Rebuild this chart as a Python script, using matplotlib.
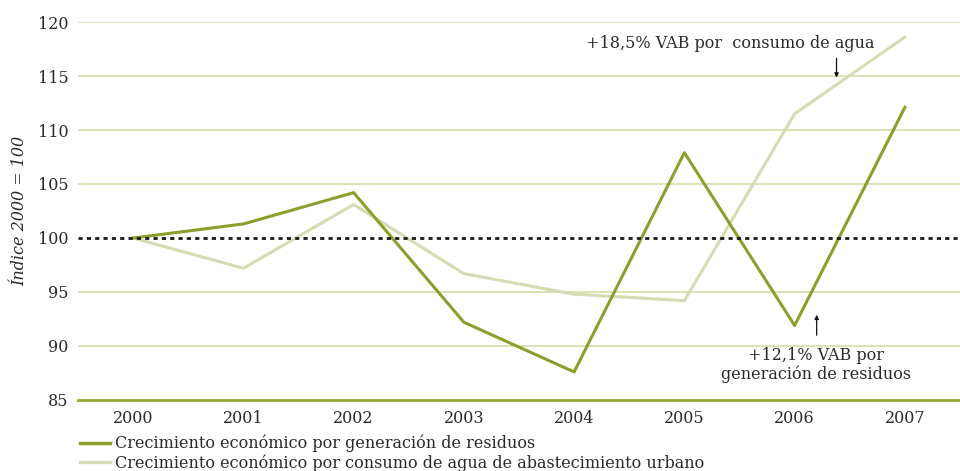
import matplotlib
matplotlib.use("Agg")
import matplotlib.pyplot as plt

years = ["2000", "2001", "2002", "2003", "2004", "2005", "2006", "2007"]
residuos = [100.0, 101.3, 104.2, 92.2, 87.6, 107.9, 91.9, 112.1]
agua = [100.0, 97.2, 103.1, 96.7, 94.8, 94.2, 111.5, 118.6]
yticks = [85, 90, 95, 100, 105, 110, 115, 120]
label_res = "Crecimiento económico por generación de residuos"
label_agua = "Crecimiento económico por consumo de agua de abastecimiento urbano"
note_agua = "+18,5% VAB por  consumo de agua"
note_res = "+12,1% VAB por\ngeneración de residuos"

plt.rcParams['font.family'] = ['DejaVu Serif']

dark = "#8d9e2c"
light = "#d6dcb2"
grid = "#d9dca6"
textc = "#2a2a2a"
fs = 11.5

fig = plt.figure(figsize=(9.6, 4.71), dpi=100)
ax = fig.add_axes([78/960, 1-400/471, 1-78/960, (400-22)/471])
x = list(range(len(years)))

for yv in yticks[1:]:
    if yv != 100:
        ax.axhline(yv, color=grid, lw=1.2, zorder=1)
ax.axhline(85, color="#95a636", lw=2, zorder=2, clip_on=False)

ax.plot(x, agua, color=light, lw=2.2, zorder=3, label=label_agua)
ax.plot(x, residuos, color=dark, lw=2.2, zorder=4, label=label_res)
ax.axhline(100, color="#1a1a1a", lw=2, ls=(0, (1.5, 1.5)), zorder=5)

ax.set_xlim(-0.5, 7.5)
ax.set_ylim(85, 120)
ax.set_yticks(yticks)
ax.set_xticks(x)
ax.set_xticklabels(years)
ax.tick_params(axis="both", length=0, labelsize=fs, colors=textc)
ax.tick_params(axis="y", pad=7)
ax.tick_params(axis="x", pad=7)
for s in ax.spines.values():
    s.set_visible(False)
ax.set_ylabel("Índice 2000 = 100", fontsize=fs, style="italic", color=textc)
ax.yaxis.set_label_coords(-50/882, 0.5)

ax.text(5.42, 118.05, note_agua, ha="center", va="center", fontsize=fs, color=textc)
ax.annotate("", xy=(6.38, 114.6), xytext=(6.38, 116.9),
            arrowprops=dict(arrowstyle="-|>", color="#111111", lw=0.9, mutation_scale=6))
ax.text(6.19, 88.24, note_res, ha="center", va="center", fontsize=fs, color=textc, linespacing=1.1)
ax.annotate("", xy=(6.2, 93.15), xytext=(6.2, 90.74),
            arrowprops=dict(arrowstyle="-|>", color="#111111", lw=0.9, mutation_scale=6))

h1, = ax.plot([], [], color=dark, lw=2.5)
h2, = ax.plot([], [], color=light, lw=2.5)
fig.legend([h1, h2], [label_res, label_agua], loc="upper left",
           bbox_to_anchor=(72/960, 1-427/471), frameon=False, fontsize=fs,
           handlelength=1.9, handletextpad=0.3, labelspacing=0.1, borderpad=0,
           labelcolor=textc)

fig.savefig("out.png", dpi=100)
